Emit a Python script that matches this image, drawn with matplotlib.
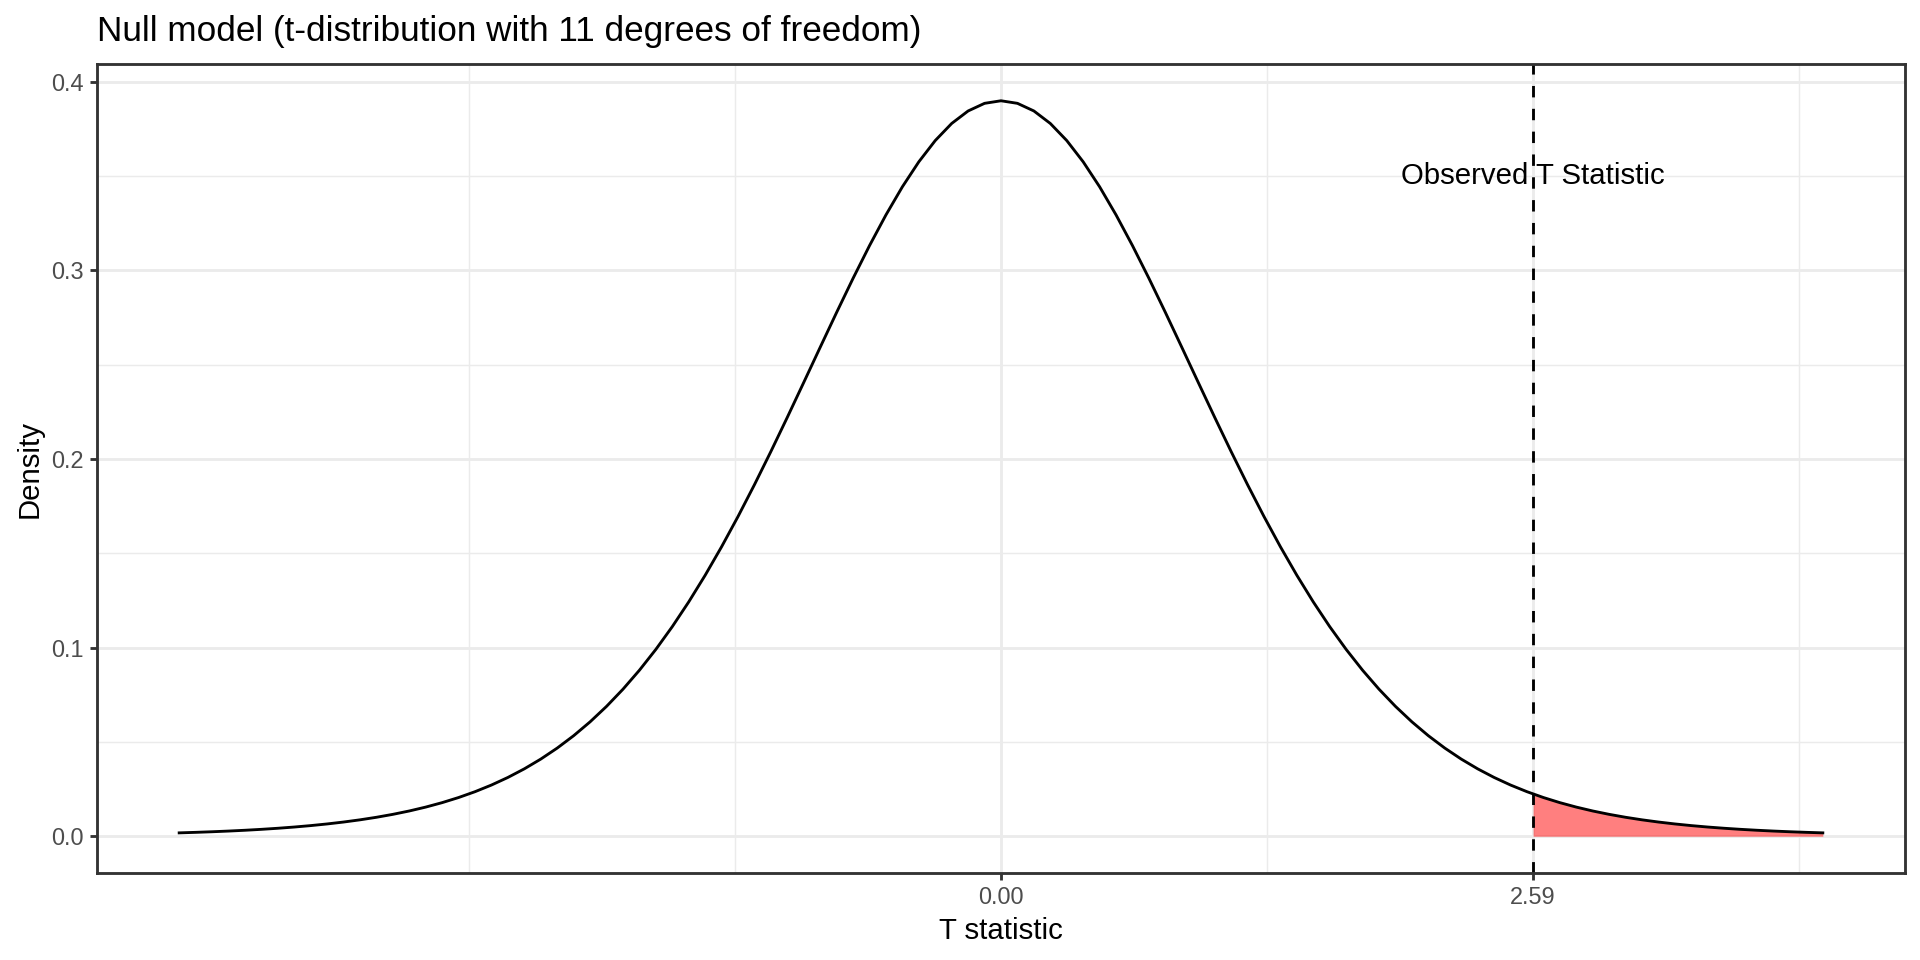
import math
import numpy as np
import matplotlib
matplotlib.use("Agg")
import matplotlib.pyplot as plt

# ---- data / parameters ----
df_t = 11                 # degrees of freedom
t_observed = 2.59         # observed T statistic
x_min, x_max = -4.0, 4.0  # plotted range of the null density
n_points = 101
x_breaks = [0.0, 2.59]
x_labels = ["0.00", "2.59"]
y_breaks = [0.0, 0.1, 0.2, 0.3, 0.4]
y_labels = ["0.0", "0.1", "0.2", "0.3", "0.4"]
title_text = "Null model (t-distribution with 11 degrees of freedom)"
annot_text = "Observed T Statistic"
annot_y = 0.35


def t_pdf(x, nu):
    c = math.gamma((nu + 1) / 2) / (math.sqrt(nu * math.pi) * math.gamma(nu / 2))
    return c * (1 + x ** 2 / nu) ** (-(nu + 1) / 2)


xs = np.linspace(x_min, x_max, n_points)
ys = t_pdf(xs, df_t)
xs_tail = np.linspace(t_observed, x_max, n_points)
ys_tail = t_pdf(xs_tail, df_t)

plt.rcParams['font.family'] = ['Liberation Sans', 'DejaVu Sans']

fig = plt.figure(figsize=(10, 5), dpi=192)
ax = fig.add_axes([97 / 1920, 1 - 873 / 960, (1905 - 97) / 1920, (873 - 64) / 960])

# limits with ggplot-like 5% expansion
xr = x_max - x_min
ax.set_xlim(x_min - 0.05 * xr, x_max + 0.05 * xr)
ymax = ys.max()
ax.set_ylim(-0.05 * ymax, ymax * 1.05)

# grid
grid_col = "#EBEBEB"
step_x = x_breaks[1] - x_breaks[0]
ext = [x_breaks[0] - step_x] + x_breaks + [x_breaks[-1] + step_x]
minor_x = []
for a, b in zip(ext[:-1], ext[1:]):
    minor_x.append((a + b) / 2)
minor_x += [ext[0], ext[-1]]
for mx in minor_x:
    if mx not in x_breaks:
        ax.axvline(mx, color=grid_col, lw=0.53, zorder=0)
for mx in x_breaks:
    ax.axvline(mx, color=grid_col, lw=1.07, zorder=0)
minor_y = [(a + b) / 2 for a, b in zip(y_breaks[:-1], y_breaks[1:])]
for my in minor_y:
    ax.axhline(my, color=grid_col, lw=0.53, zorder=0)
for my in y_breaks:
    ax.axhline(my, color=grid_col, lw=1.07, zorder=0)

# tail area + curve
ax.fill_between(xs_tail, 0, ys_tail, color="#FF0000", alpha=0.5, lw=0, zorder=2)
ax.plot(xs, ys, color="black", lw=1.07, zorder=3, solid_joinstyle='round')
ax.axvline(t_observed, color="black", lw=1.07, ls=(0, (4, 4)), zorder=4)
ax.text(t_observed, annot_y, annot_text, ha="center", va="center",
        fontsize=11, color="black", zorder=5)

# axes styling
ax.set_xticks(x_breaks)
ax.set_xticklabels(x_labels)
ax.set_yticks(y_breaks)
ax.set_yticklabels(y_labels)
ax.tick_params(axis='both', length=2.75 * 1.0, width=1.07, color="#333333",
               labelsize=8.8, labelcolor="#4D4D4D", pad=2.2)
for sp in ax.spines.values():
    sp.set_color("#333333")
    sp.set_linewidth(1.07)
    sp.set_zorder(6)
ax.set_xlabel("T statistic", fontsize=11, color="black", labelpad=2.75)
ax.set_ylabel("Density", fontsize=11, color="black", labelpad=2.75)

fig.text(97 / 1920, 1 - 41 / 960, title_text, fontsize=13.2, color="black",
         ha="left", va="baseline")

fig.savefig("out.png", dpi=192, facecolor="white")
